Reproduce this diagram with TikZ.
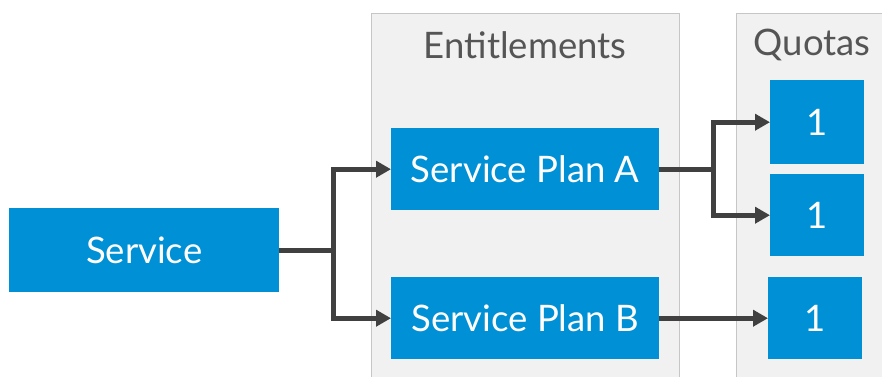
\documentclass[tikz,border=0pt]{standalone}
\usepackage{fontspec}
\setmainfont{Lato}
\usetikzlibrary{arrows.meta}
\definecolor{boxblue}{HTML}{0090D6}
\definecolor{panelfill}{HTML}{F1F1F1}
\definecolor{panelline}{HTML}{C6C6C6}
\definecolor{wiregray}{HTML}{404040}
\definecolor{titlegray}{HTML}{555555}
\tikzset{
  panel/.style={fill=panelfill, draw=panelline, line width=1pt},
  bluebox/.style={fill=boxblue, text=white, inner sep=0pt, anchor=north west, font=\fontsize{36.5}{40}\selectfont},
  paneltitle/.style={text=titlegray, font=\fontsize{36.5}{40}\selectfont},
  wire/.style={draw=wiregray, line width=5pt, -{Triangle[length=15pt,width=16pt]}}
}
\begin{document}
\begin{tikzpicture}[x=1pt,y=-1pt]
    \useasboundingbox (0,0) rectangle (882,376);
    \clip (0,0) rectangle (882,376);
    % panels
    \draw[panel] (371,13) rectangle (679,395);
    \draw[panel] (736,13) rectangle (900,395);
    \node[paneltitle] (enttitle) at (525,45) {Entitlements};
    \node[paneltitle] (quotatitle) at (812,45) {Quotas};
    % boxes
    \node[bluebox, minimum width=270pt, minimum height=84pt] (service) at (9,208) {Service};
    \node[bluebox, minimum width=268pt, minimum height=82pt] (planA) at (391,128) {Service Plan A};
    \node[bluebox, minimum width=268pt, minimum height=82pt] (planB) at (391,277) {Service Plan B};
    \node[bluebox, minimum width=94pt, minimum height=84pt] (quotaA) at (770,80) {1};
    \node[bluebox, minimum width=94pt, minimum height=82pt] (quotaB) at (770,174) {1};
    \node[bluebox, minimum width=94pt, minimum height=82pt] (quotaC) at (768,277) {1};
    % connectors
    \draw[wire] (service.east) -- ++(54,0) |- (planA.west);
    \draw[wire] (service.east) -- ++(54,0) |- (planB.west);
    \draw[wire] (planA.east) -- ++(54,0) |- (quotaA.west);
    \draw[wire] (planA.east) -- ++(54,0) |- (quotaB.west);
    \draw[wire] (planB.east) -- (quotaC.west);
\end{tikzpicture}
\end{document}
